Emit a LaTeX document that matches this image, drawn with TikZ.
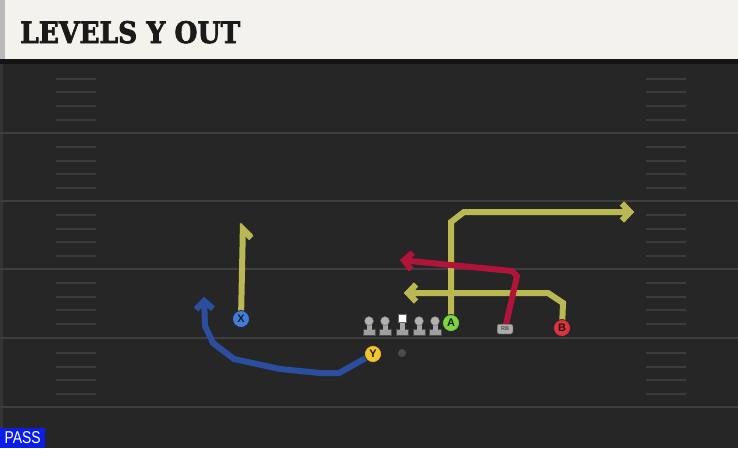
\documentclass[tikz,border=0pt]{standalone}
\usepackage{fontspec}
\usepackage{graphicx}
\usetikzlibrary{arrows.meta}
\newfontfamily\titlefont{DejaVu Serif}[FakeBold=2.5]
\newfontfamily\labelfont{Liberation Sans}
\definecolor{fieldbg}{RGB}{38,38,38}
\definecolor{titlebg}{RGB}{244,242,236}
\definecolor{yardc}{RGB}{62,62,62}
\definecolor{hashc}{RGB}{60,60,60}
\definecolor{routey}{RGB}{185,184,82}
\definecolor{router}{RGB}{176,20,56}
\definecolor{routeb}{RGB}{43,78,158}
\definecolor{xcol}{RGB}{61,126,219}
\definecolor{ycol}{RGB}{242,196,48}
\definecolor{acol}{RGB}{123,214,64}
\definecolor{bcol}{RGB}{224,50,60}
\definecolor{passblue}{RGB}{11,30,232}
\definecolor{inkc}{RGB}{26,26,26}
\definecolor{edgec}{RGB}{52,52,52}
\pgfdeclarelayer{field}
\pgfdeclarelayer{routes}
\pgfsetlayers{field,routes,main}
\tikzset{
  yardline/.style={draw=yardc, line width=2pt},
  hashline/.style={draw=hashc, line width=2pt},
  outl/.style={draw=black!85, line width=6pt, line join=miter},
  rte/.style={line width=4pt, line join=miter},
  tip/.style={-{Straight Barb[length=8pt,width=17pt]}},
  halftip/.style={-{Straight Barb[right,length=8pt,width=17pt]}},
  player/.style={circle, draw=black!85, line width=0.8pt, minimum size=17pt, inner sep=0pt,
     font=\labelfont\bfseries\fontsize{11}{11}\selectfont, text=inkc},
  lineman/.pic={
    \fill[gray!75!white, draw=black!70, line width=0.5pt] (-6,14) rectangle (6,8);
    \fill[gray!70!white] (-2.5,2) rectangle (2.5,9);
    \fill[gray!60, draw=black!60, line width=0.4pt] (0,0) circle (4.5);
  },
  centerman/.pic={
    \fill[gray!75!white, draw=black!70, line width=0.5pt] (-6,14) rectangle (6,8);
    \fill[gray!70!white] (-2.5,0) rectangle (2.5,9);
    \fill[white, draw=black!60, line width=0.4pt] (-4,-7) rectangle (4,1);
  }
}
\newcommand{\routepath}[2]{\draw[outl,#1] #2; \draw[rte,#1] #2;}
\begin{document}
\begin{tikzpicture}[x=1pt,y=-1pt]
\useasboundingbox (0,0) rectangle (738,448);
\begin{pgfonlayer}{field}
\fill[fieldbg] (0,0) rectangle (738,448);
\fill[edgec] (0,64) rectangle (3,448);
\fill[titlebg] (5,0) rectangle (738,59);
\fill[gray!55] (0,0) rectangle (5,59);
\fill[black!92] (0,59) rectangle (738,64);
\foreach \yy in {133,201,269,338,407} {\draw[yardline] (0,\yy) -- (738,\yy);}
\foreach \yy in {79,92,106,120,147,161,174,188,215,229,242,256,283,297,310,324,353,367,380,394} {
  \draw[hashline] (56,\yy) -- (96,\yy);
  \draw[hashline] (646,\yy) -- (686,\yy);
}
\end{pgfonlayer}

\node[anchor=base west, inner sep=0pt, text=inkc] (title) at (20,43)
  {\resizebox{220pt}{22pt}{\titlefont\bfseries LEVELS Y OUT}};
\node[fill=passblue, anchor=south west, inner sep=0pt, minimum width=45pt, minimum height=20pt,
  text=white] (pass) at (0,448) {\resizebox{36pt}{12pt}{\labelfont PASS}};

% players
\node[player, fill=xcol] (X) at (241,319) {X};
\node[player, fill=ycol] (Y) at (373,354) {Y};
\node[player, fill=acol] (A) at (451,323) {A};
\node[player, fill=bcol] (B) at (562,328) {B};
\node[fill=gray!65, draw=black!80, line width=0.5pt, rounded corners=2pt, minimum width=16pt,
  minimum height=10pt, inner sep=0pt, font=\labelfont\bfseries\fontsize{5.5}{5.5}\selectfont, text=black!70]
  (RB) at (505,329) {RB};
\node[circle, fill=gray!60!black, minimum size=8pt, inner sep=0pt] (ball) at (402,353) {};
\coordinate (LT) at (369,321);
\coordinate (LG) at (385,321);
\coordinate (C) at (402,321);
\coordinate (RG) at (419,321);
\coordinate (RT) at (435,321);
\pic at (LT) {lineman};
\pic at (LG) {lineman};
\pic at (C) {centerman};
\pic at (RG) {lineman};
\pic at (RT) {lineman};

% route waypoints
\coordinate (x1) at (243,223);
\coordinate (a1) at (451,222);
\coordinate (a2) at (464,212);
\coordinate (a3) at (634,212);
\coordinate (b1) at (563,303);
\coordinate (b2) at (548,293);
\coordinate (b3) at (404,293);
\coordinate (r1) at (517,276);
\coordinate (r2) at (512,271);
\coordinate (r3) at (400,260);
\coordinate (y1) at (339,373);
\coordinate (y2) at (320,373);
\coordinate (y3) at (280,369);
\coordinate (y4) at (234,359);
\coordinate (y5) at (213,343);
\coordinate (y6) at (205,326);
\coordinate (y7) at (204,297);

\begin{pgfonlayer}{routes}
\routepath{routey,halftip}{(X.center) -- (x1)}
\routepath{routey,tip}{(A.center) -- (a1) -- (a2) -- (a3)}
\routepath{routey,tip}{(B.center) -- (b1) -- (b2) -- (b3)}
\routepath{router,tip}{(RB.center) -- (r1) -- (r2) -- (r3)}
\routepath{routeb,tip}{(Y.center) -- (y1) -- (y2) -- (y3) -- (y4) -- (y5) -- (y6) -- (y7)}
\end{pgfonlayer}
\end{tikzpicture}
\end{document}
